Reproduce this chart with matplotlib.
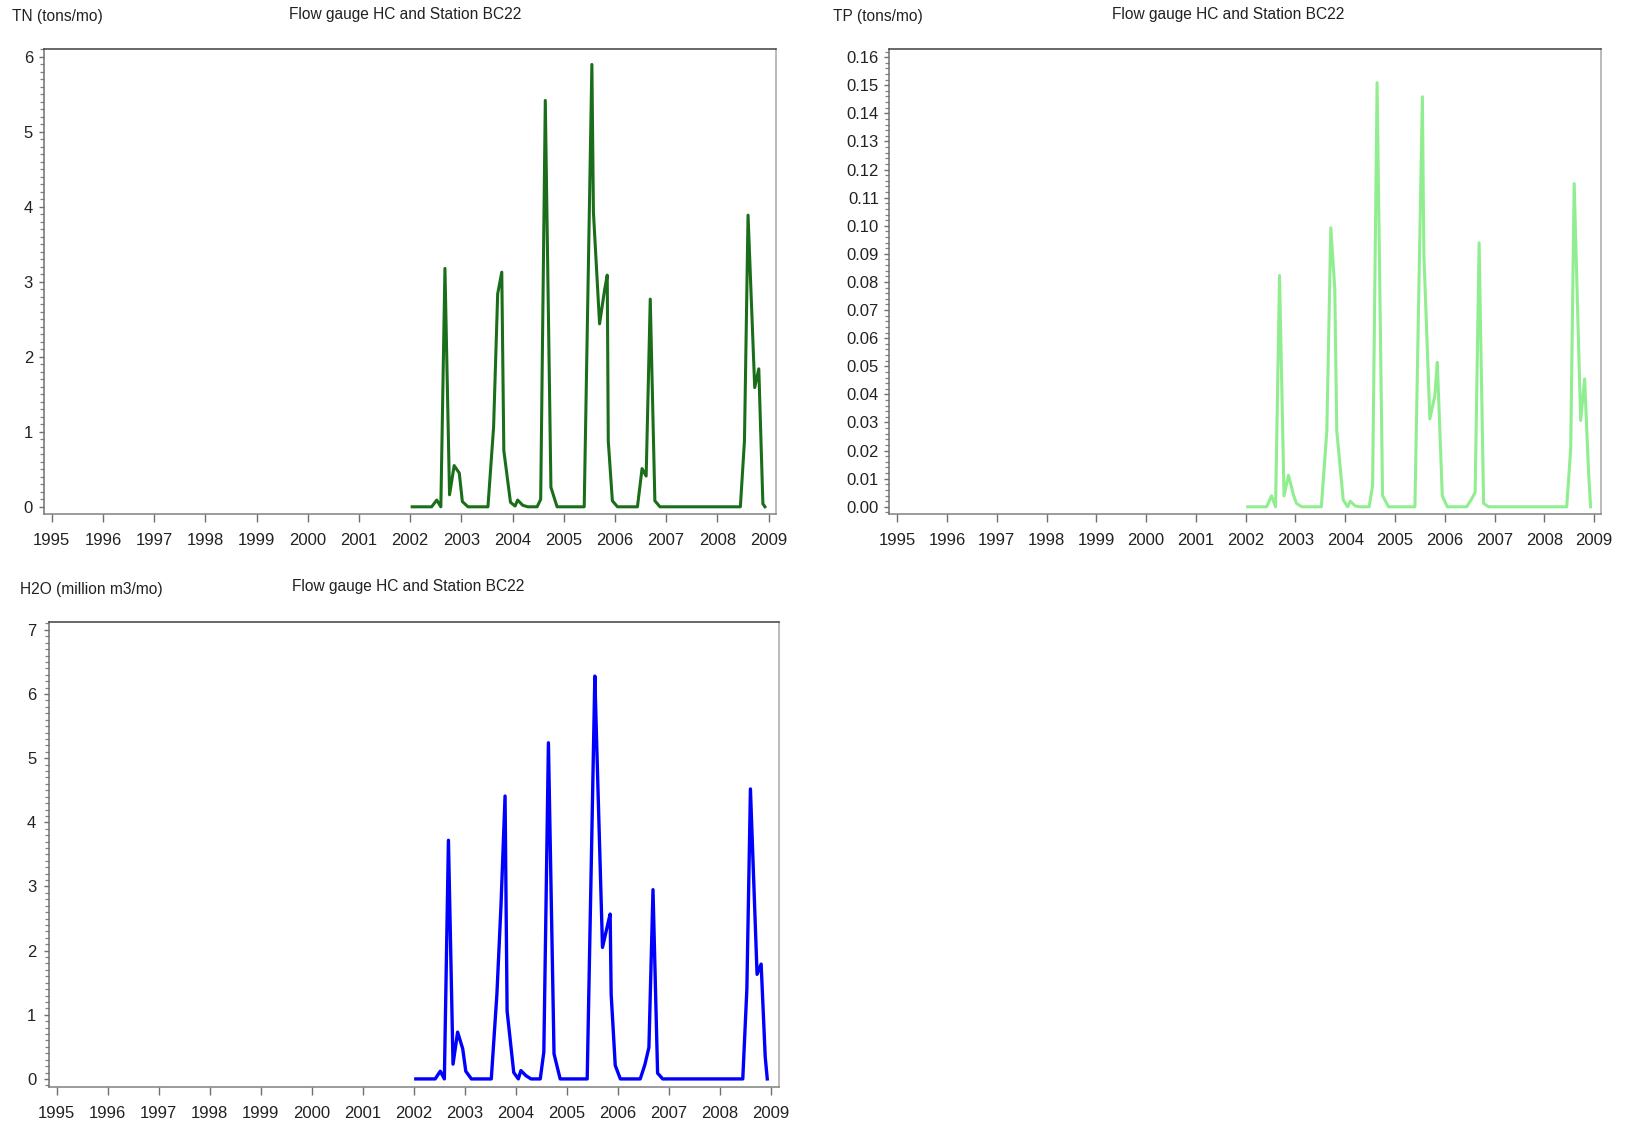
import matplotlib
matplotlib.use("Agg")
import matplotlib.pyplot as plt
from matplotlib.ticker import MultipleLocator, FormatStrFormatter

plt.rcParams['font.family'] = ['Liberation Sans', 'DejaVu Sans']

# sample dates (decimal years) shared by the three series
dates = [2002.04, 2002.42, 2002.52, 2002.60, 2002.68, 2002.77, 2002.86, 2002.96,
         2003.02, 2003.13, 2003.52, 2003.63, 2003.71, 2003.79, 2003.83, 2003.96,
         2004.05, 2004.10, 2004.20, 2004.30, 2004.48, 2004.55, 2004.64, 2004.75,
         2004.87, 2005.40, 2005.55, 2005.58, 2005.70, 2005.80, 2005.85, 2005.87,
         2005.95, 2006.05, 2006.44, 2006.53, 2006.61, 2006.69, 2006.78, 2006.88,
         2008.45, 2008.53, 2008.60, 2008.73, 2008.81, 2008.89, 2008.93]

# TN (tons/mo)
tn = [0, 0, 0.09, 0, 3.18, 0.16, 0.55, 0.45,
      0.07, 0, 0, 1.06, 2.84, 3.13, 0.75, 0.06,
      0.01, 0.09, 0.02, 0, 0, 0.10, 5.42, 0.26,
      0, 0, 5.90, 3.93, 2.44, 2.90, 3.09, 0.88,
      0.08, 0, 0, 0.51, 0.41, 2.77, 0.08, 0,
      0, 0.88, 3.89, 1.59, 1.84, 0.04, 0]

# TP (tons/mo)
tp = [0, 0, 0.0039, 0, 0.0823, 0.0039, 0.0112, 0.0042,
      0.0012, 0, 0, 0.027, 0.0993, 0.0776, 0.027, 0.0024,
      0, 0.002, 0.0003, 0, 0, 0.0075, 0.1509, 0.004,
      0, 0, 0.1459, 0.09, 0.0313, 0.0395, 0.0514, 0.042,
      0.0039, 0, 0, 0.0025, 0.0051, 0.0939, 0.0012, 0,
      0, 0.0206, 0.115, 0.0307, 0.0455, 0.012, 0]

# H2O (million m3/mo)
h2o = [0, 0, 0.12, 0, 3.72, 0.23, 0.73, 0.47,
       0.12, 0, 0, 1.32, 2.70, 4.41, 1.06, 0.10,
       0, 0.13, 0.05, 0, 0, 0.42, 5.24, 0.39,
       0, 0, 6.28, 5.40, 2.05, 2.40, 2.57, 1.32,
       0.21, 0, 0, 0.22, 0.49, 2.95, 0.09, 0,
       0, 1.40, 4.52, 1.63, 1.79, 0.34, 0]

years = list(range(1995, 2010))
title = "Flow gauge HC and Station BC22"

W, H = 1625, 1124
fig = plt.figure(figsize=(W / 100, H / 100), dpi=100)


def box(l, t, r, b):
    return [l / W, 1 - b / H, (r - l) / W, (b - t) / H]


def panel(rect, y, color, ylim, xlim, major, minor, fmt, lw, ypad):
    ax = fig.add_axes(rect)
    ax.plot(dates, y, color=color, lw=lw, solid_joinstyle='round')
    ax.set_xlim(*xlim)
    ax.set_ylim(*ylim)
    ax.set_xticks(years)
    ax.yaxis.set_major_locator(MultipleLocator(major))
    ax.yaxis.set_minor_locator(MultipleLocator(minor))
    ax.yaxis.set_major_formatter(FormatStrFormatter(fmt))
    ax.tick_params(axis='x', length=5.4, width=1.0, color='#707070', pad=8.5,
                   labelsize=12, labelcolor='#222222')
    ax.tick_params(axis='y', which='major', length=3.6, width=1.0, color='#707070',
                   pad=ypad, labelsize=12, labelcolor='#222222')
    ax.tick_params(axis='y', which='minor', length=2.8, width=0.9, color='#808080')
    ax.spines['top'].set_color('#404040')
    ax.spines['right'].set_color('#a8a8a8')
    ax.spines['left'].set_color('#707070')
    ax.spines['bottom'].set_color('#808080')
    for s in ax.spines.values():
        s.set_linewidth(1.1)
    return ax


panel(box(44.3, 48.7, 776, 514), tn, '#1a6e1a', (-0.096, 6.11),
      (1994.855, 2009.146), 1, 0.1, '%d', 2.2, 4.5)
panel(box(889, 48.7, 1601, 514), tp, '#90ee90', (-0.00256, 0.163),
      (1994.833, 2009.139), 0.01, 0.002, '%.2f', 2.2, 3.6)
panel(box(49, 622.2, 779, 1087), h2o, '#0000ff', (-0.126, 7.12),
      (1994.85, 2009.16), 1, 0.1, '%d', 2.4, 5.5)

fs = 11.2
fig.text(12.4 / W, 1 - 16.6 / H, "TN (tons/mo)", fontsize=fs, ha='left', va='center', color='#222222')
fig.text(405 / W, 1 - 14 / H, title, fontsize=fs, ha='center', va='center', color='#222222')
fig.text(833 / W, 1 - 16.6 / H, "TP (tons/mo)", fontsize=fs, ha='left', va='center', color='#222222')
fig.text(1228 / W, 1 - 14 / H, title, fontsize=fs, ha='center', va='center', color='#222222')
fig.text(19.7 / W, 1 - 589.7 / H, "H2O (million m3/mo)", fontsize=fs, ha='left', va='center', color='#222222')
fig.text(408 / W, 1 - 587 / H, title, fontsize=fs, ha='center', va='center', color='#222222')

fig.savefig("out.png", dpi=100)
